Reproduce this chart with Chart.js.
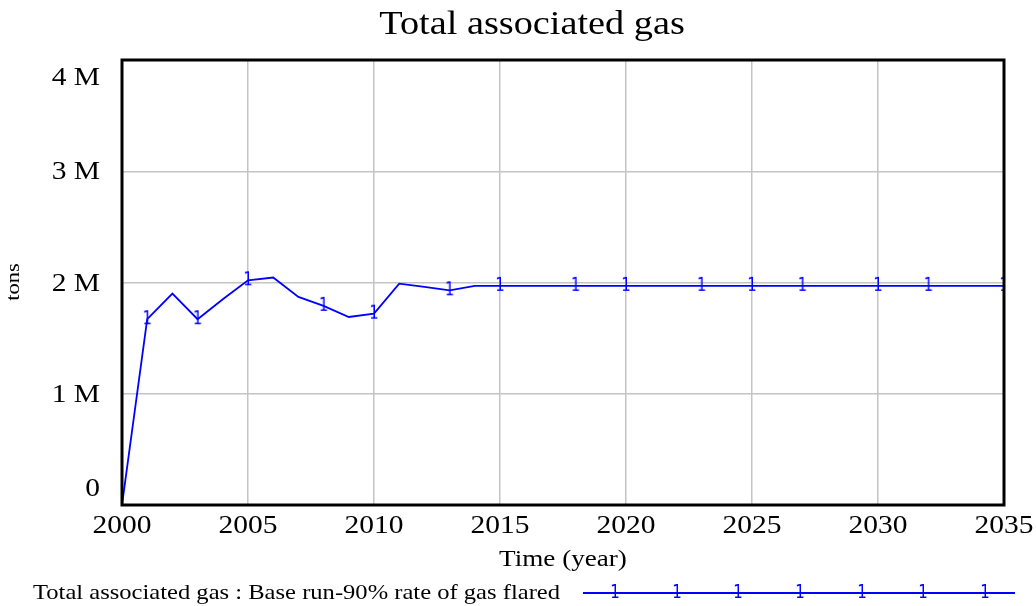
<!DOCTYPE html>
<html>
<head>
<meta charset="utf-8">
<title>Total associated gas</title>
<script src="https://cdn.jsdelivr.net/npm/chart.js@4"></script>
<style>
  html, body { margin: 0; padding: 0; background: #fff; }
  #grafico { display: block; }
</style>
</head>
<body>
<canvas id="grafico" width="1036" height="606"></canvas>
<script>
// Datos
const anios = [2000, 2001, 2002, 2003, 2004, 2005, 2006, 2007, 2008, 2009,
  2010, 2011, 2012, 2013, 2014, 2015, 2016, 2017, 2018, 2019,
  2020, 2021, 2022, 2023, 2024, 2025, 2026, 2027, 2028, 2029,
  2030, 2031, 2032, 2033, 2034, 2035];
const gasTotal = [0, 1670000, 1900000, 1670000, 1850000, 2020000, 2045000, 1870000, 1790000, 1690000,
  1720000, 1990000, 1960000, 1930000, 1970000, 1970000, 1970000, 1970000, 1970000, 1970000,
  1970000, 1970000, 1970000, 1970000, 1970000, 1970000, 1970000, 1970000, 1970000, 1970000,
  1970000, 1970000, 1970000, 1970000, 1970000, 1970000];
const aniosMarcador = [2001, 2003, 2005, 2008, 2010, 2013, 2015, 2018, 2020, 2023, 2025, 2027, 2030, 2032, 2035];
const ticksX = [2000, 2005, 2010, 2015, 2020, 2025, 2030, 2035];
const ticksY = [0, 1000000, 2000000, 3000000, 4000000];
const etiquetasY = ['0', '1 M', '2 M', '3 M', '4 M'];

const titulo = 'Total associated gas';
const tituloX = 'Time (year)';
const tituloY = 'tons';
const leyenda = 'Total associated gas : Base run-90% rate of gas flared';

const AZUL = '#0000ff';
const SERIF = '"Liberation Serif", "Times New Roman", serif';

// Marcador "1" estilo Vensim
function crearMarcador() {
  const c = document.createElement('canvas');
  c.width = 12;
  c.height = 22;
  const g = c.getContext('2d');
  g.fillStyle = AZUL;
  g.font = '15px "DejaVu Sans", sans-serif';
  g.textAlign = 'center';
  g.textBaseline = 'middle';
  g.translate(6, 11);
  g.scale(1, 1.35);
  g.fillText('1', 0, 0);
  return c;
}
const marcador = crearMarcador();

const puntos = anios.map((a, i) => ({ x: a, y: gasTotal[i] }));

// Texto algo ensanchado como en Vensim
function texto(ctx, t, x, y, tam, alin, ancho) {
  ctx.save();
  ctx.translate(x, y);
  ctx.scale(ancho, 1);
  ctx.font = tam + 'px ' + SERIF;
  ctx.textAlign = alin;
  ctx.fillText(t, 0, 0);
  ctx.restore();
}

// Marco, etiquetas, títulos y leyenda
const decoracion = {
  id: 'decoracion',
  afterDraw(chart) {
    const ctx = chart.ctx;
    const area = chart.chartArea;
    const escalaX = chart.scales.x;
    const escalaY = chart.scales.y;

    ctx.save();
    ctx.strokeStyle = '#000';
    ctx.lineWidth = 3;
    ctx.strokeRect(area.left, area.top, area.right - area.left, area.bottom - area.top);

    ctx.fillStyle = '#000';
    ctx.textBaseline = 'alphabetic';
    ticksY.forEach((v, i) => {
      let y = escalaY.getPixelForValue(v);
      y = Math.min(Math.max(y, area.top + 17), area.bottom - 17);
      texto(ctx, etiquetasY[i], 100, y + 8, 25, 'right', 1.18);
    });

    ticksX.forEach(v => {
      texto(ctx, String(v), escalaX.getPixelForValue(v), 533, 25, 'center', 1.18);
    });

    texto(ctx, titulo, 532, 34, 33, 'center', 1.16);
    texto(ctx, tituloX, 563, 566, 24, 'center', 1.13);

    ctx.save();
    ctx.translate(19, 282);
    ctx.rotate(-Math.PI / 2);
    texto(ctx, tituloY, 0, 0, 18, 'center', 1.25);
    ctx.restore();

    // Leyenda
    texto(ctx, leyenda, 560, 599, 21, 'right', 1.17);
    ctx.strokeStyle = AZUL;
    ctx.lineWidth = 1.8;
    ctx.beginPath();
    ctx.moveTo(583, 593);
    ctx.lineTo(1015, 593);
    ctx.stroke();
    [615, 677, 738, 800, 862, 923, 985].forEach(x => {
      ctx.drawImage(marcador, x - 6, 593 - 11);
    });
    ctx.restore();
  }
};

new Chart(document.getElementById('grafico'), {
  type: 'line',
  data: {
    datasets: [{
      label: leyenda,
      data: puntos,
      borderColor: AZUL,
      borderWidth: 1.8,
      tension: 0,
      fill: false,
      pointStyle: ctx => aniosMarcador.includes(ctx.raw && ctx.raw.x) ? marcador : false,
      pointRadius: 6,
      pointHoverRadius: 6
    }]
  },
  options: {
    responsive: false,
    animation: false,
    maintainAspectRatio: false,
    layout: { padding: { top: 60, right: 32, left: 0, bottom: 0 } },
    plugins: {
      legend: { display: false },
      title: { display: false },
      tooltip: { enabled: false }
    },
    scales: {
      x: {
        type: 'linear',
        min: 2000,
        max: 2035,
        afterFit: s => { s.height = 101; },
        afterBuildTicks: s => { s.ticks = ticksX.map(v => ({ value: v })); },
        ticks: { display: false },
        grid: { color: '#c4c4c4', lineWidth: 1.5, drawTicks: false },
        border: { display: false }
      },
      y: {
        min: 0,
        max: 4000000,
        afterFit: s => { s.width = 122; },
        afterBuildTicks: s => { s.ticks = ticksY.map(v => ({ value: v })); },
        ticks: { display: false },
        grid: { color: '#c4c4c4', lineWidth: 1.5, drawTicks: false },
        border: { display: false }
      }
    }
  },
  plugins: [decoracion]
});
</script>
</body>
</html>
